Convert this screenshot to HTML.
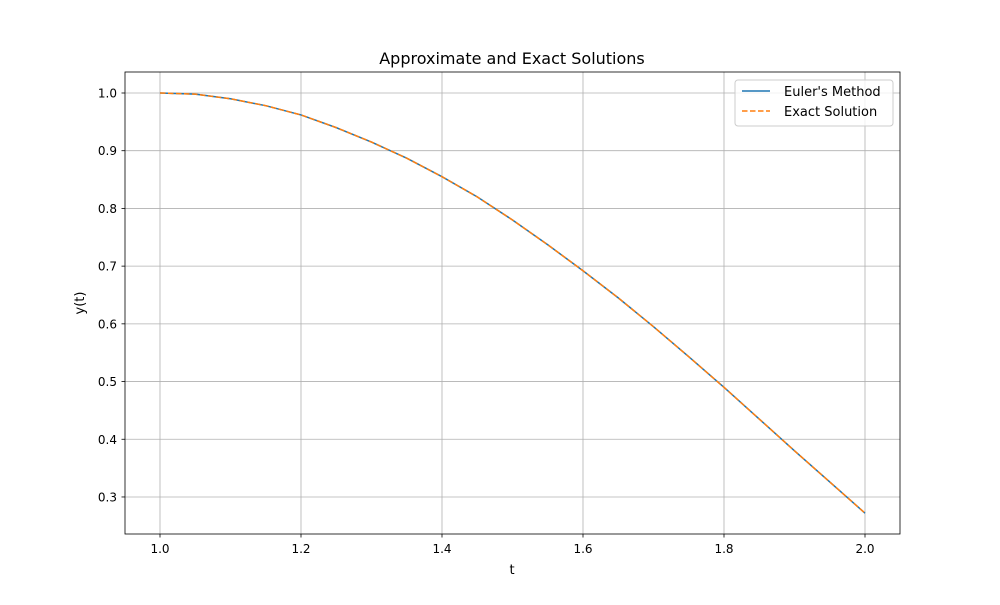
<!DOCTYPE html>
<html><head><meta charset="utf-8"><style>
body{margin:0;background:#fff;}
text{font-family:"DejaVu Sans","Liberation Sans",sans-serif;fill:#000;}
</style></head><body>
<svg id="chart" width="1000" height="600">
<rect x="0" y="0" width="1000" height="600" fill="#fff"/>
<g id="grid"></g>
<g id="series"></g>
<rect x="125" y="72" width="775" height="462" fill="none" stroke="#000" stroke-width="0.8"/>
<g id="ticks"></g>
<text x="512" y="64" font-size="16" text-anchor="middle">Approximate and Exact Solutions</text>
<text x="512" y="574" font-size="13" text-anchor="middle">t</text>
<text x="84" y="303" font-size="13" text-anchor="middle" transform="rotate(-90 84 303)">y(t)</text>
<g>
<rect x="735" y="80" width="158" height="46" rx="3" fill="#fff" fill-opacity="0.8" stroke="#ccc"/>
<g>
<line x1="742" y1="91" x2="770" y2="91" stroke="#1f77b4" stroke-width="1.5"/>
<text x="784" y="96" font-size="13">Euler's Method</text></g>
<g>
<line x1="742" y1="111" x2="770" y2="111" stroke="#ff7f0e" stroke-width="1.5" stroke-dasharray="5.5,2.5"/>
<text x="784" y="116" font-size="13">Exact Solution</text></g>
</g>
</svg>
<script>
const tValues=[1.0,1.05,1.1,1.15,1.2,1.25,1.3,1.35,1.4,1.45,1.5,1.55,1.6,1.65,1.7,1.75,1.8,1.85,1.9,1.95,2.0];
const eulerValues=[1.0,0.998,0.99,0.978,0.962,0.94,0.915,0.887,0.855,0.82,0.78,0.737,0.692,0.645,0.595,0.543,0.49,0.435,0.38,0.326,0.272];
const exactValues=[1.0,0.998,0.99,0.978,0.962,0.94,0.915,0.887,0.855,0.82,0.78,0.737,0.692,0.645,0.595,0.543,0.49,0.435,0.38,0.326,0.272];
const xTicks=[1.0,1.2,1.4,1.6,1.8,2.0];
const yTicks=[0.3,0.4,0.5,0.6,0.7,0.8,0.9,1.0];
const NS="http://www.w3.org/2000/svg";
function xs(v){return 160+(v-1)*705;}
function ys(v){return 93+(1-v)*577.1;}
const grid=document.getElementById('grid'),ticks=document.getElementById('ticks'),series=document.getElementById('series');
function mk(tag,attrs,parent){const e=document.createElementNS(NS,tag);for(const k in attrs)e.setAttribute(k,attrs[k]);parent.appendChild(e);return e;}
xTicks.forEach(v=>{
 const g=mk('line',{x1:xs(v),x2:xs(v),y1:72,y2:534,stroke:'#b0b0b0','stroke-width':0.8},grid);
 
 
 mk('line',{x1:xs(v),x2:xs(v),y1:534,y2:537.5,stroke:'#000','stroke-width':0.8},ticks);
 const t=mk('text',{x:xs(v),y:553,'font-size':12,'text-anchor':'middle'},ticks);
 t.textContent=v.toFixed(1);
 
 
});
yTicks.forEach(v=>{
 const g=mk('line',{x1:125,x2:900,y1:ys(v),y2:ys(v),stroke:'#b0b0b0','stroke-width':0.8},grid);
 
 
 mk('line',{x1:121.5,x2:125,y1:ys(v),y2:ys(v),stroke:'#000','stroke-width':0.8},ticks);
 const t=mk('text',{x:117,y:ys(v)+4.5,'font-size':12,'text-anchor':'end'},ticks);
 t.textContent=v.toFixed(1);
 
 
});
function pts(arr){return tValues.map((t,i)=>xs(t)+','+ys(arr[i])).join(' ');}
const l1=mk('polyline',{points:pts(eulerValues),fill:'none',stroke:'#1f77b4','stroke-width':1.5},series);


const l2=mk('polyline',{points:pts(exactValues),fill:'none',stroke:'#ff7f0e','stroke-width':1.5,'stroke-dasharray':'5.5,2.5'},series);


</script>
</body></html>
